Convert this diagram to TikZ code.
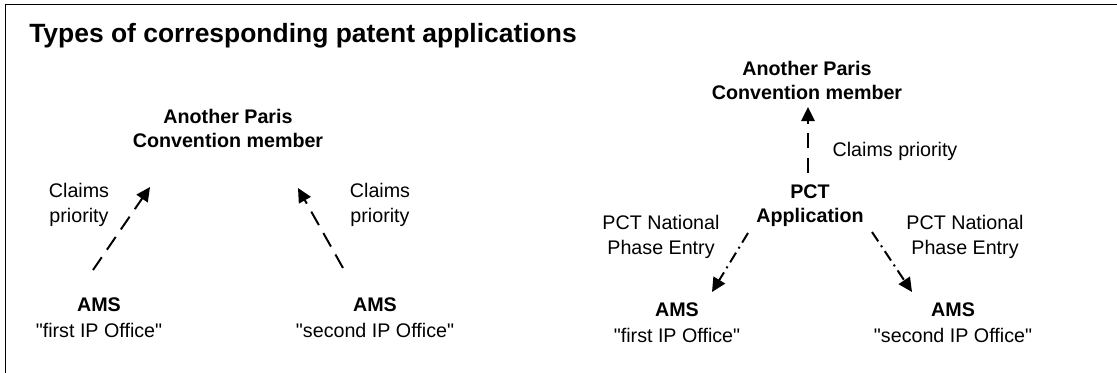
\documentclass[tikz,border=0pt]{standalone}
\usepackage{fontspec}
\setmainfont{Liberation Sans}
\usetikzlibrary{arrows.meta}

\tikzset{>={Triangle[length=10pt,width=9.5pt]}}
\tikzset{
  txt/.style={inner sep=0pt,align=center,font=\fontsize{14}{18.4}\selectfont},
  btxt/.style={txt,font=\fontsize{14}{17.7}\selectfont\bfseries},
  prio/.style={->,line width=1.4pt,dash pattern=on 11pt off 6.5pt},
  entry/.style={->,line width=1.4pt,dash pattern=on 8pt off 3.5pt on 1.4pt off 3.5pt},
}
\newcommand{\qt}[1]{\textquotedbl#1\textquotedbl}

\begin{document}
\begin{tikzpicture}[x=0.025cm,y=-0.025cm]
  \useasboundingbox (0,0) rectangle (1117,373);
  \clip (0,0) rectangle (1117,373);
  \draw[line width=1.4pt] (5.5,4.5) rectangle (1130,390);

  \node[anchor=base west,inner sep=0pt,font=\fontsize{18.8}{22}\selectfont\bfseries]
    (title) at (29,43) {Types of corresponding patent applications};

  % Paris Convention route
  \node[btxt,anchor=base] (apcL) at (228,148) {Another Paris\\Convention member};
  \node[txt,anchor=base] (cpL1) at (79,223) {Claims\\priority};
  \node[txt,anchor=base] (cpL2) at (380,223) {Claims\\priority};
  \node[txt,anchor=base] (amsL1) at (99,337) {\textbf{AMS}\\\qt{first IP Office}};
  \node[txt,anchor=base] (amsL2) at (375,337) {\textbf{AMS}\\\qt{second IP Office}};

  \draw[prio] ([shift={(-6,-67)}]amsL1.base) -- ([shift={(-78,39)}]apcL.base);
  \draw[prio] ([shift={(-32,-69)}]amsL2.base) -- ([shift={(70,40)}]apcL.base);

  % PCT route
  \node[btxt,anchor=base] (apcR) at (807,100) {Another Paris\\Convention member};
  \node[btxt,anchor=base] (pct) at (810,223) {PCT\\Application};
  \node[txt,anchor=base] (cpR) at (895,157) {Claims priority};
  \node[txt,anchor=base] (npeL) at (661,255) {PCT National\\Phase Entry};
  \node[txt,anchor=base] (npeR) at (965,255) {PCT National\\Phase Entry};
  \node[txt,anchor=base] (amsR1) at (677,342) {\textbf{AMS}\\\qt{first IP Office}};
  \node[txt,anchor=base] (amsR2) at (953,342) {\textbf{AMS}\\\qt{second IP Office}};

  \draw[prio] ([shift={(-2,-50)}]pct.base) -- ([shift={(1,7)}]apcR.base);
  \draw[entry] ([shift={(-62,10)}]pct.base) -- ([shift={(35,-50)}]amsR1.base);
  \draw[entry] ([shift={(62,9)}]pct.base) -- ([shift={(-41,-50)}]amsR2.base);
\end{tikzpicture}
\end{document}
